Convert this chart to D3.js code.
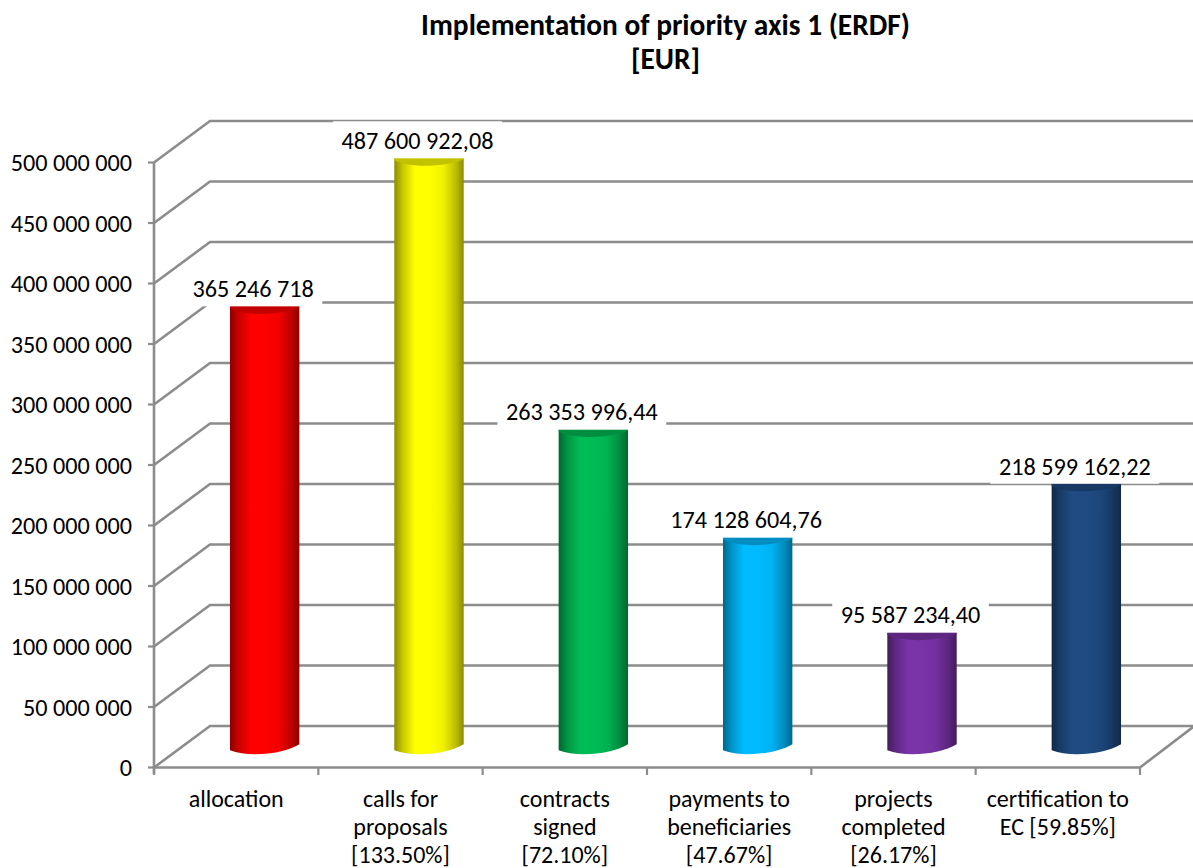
<!DOCTYPE html>
<html><head><meta charset="utf-8">
<script src="https://cdn.jsdelivr.net/npm/d3@7"></script>
<style>html,body{margin:0;padding:0;background:#fff}svg{display:block}text{font-family:Carlito,Lato,"Open Sans",sans-serif;fill:#000}</style>
</head><body><svg id="c" width="1193" height="868"></svg>
<script>
const categories=[["allocation"],["calls for","proposals","[133.50%]"],["contracts","signed","[72.10%]"],["payments to","beneficiaries","[47.67%]"],["projects","completed","[26.17%]"],["certification to","EC [59.85%]"]];
const values=[365246718,487600922.08,263353996.44,174128604.76,95587234.40,218599162.22];
const valueLabels=["365 246 718","487 600 922,08","263 353 996,44","174 128 604,76","95 587 234,40","218 599 162,22"];
const barColors=["#FF0000","#FFFF00","#00BC55","#00BBFF","#7A33A8","#1F4B82"];
const yTicks=d3.range(0,500000001,50000000);
const titleLines=["Implementation of priority axis 1 (ERDF)","[EUR]"];

const svg=d3.select("#c"),grid="#8c8c8c";
const x=d3.scaleBand().domain(d3.range(6)).range([154,1140]).padding(0);
const y=d3.scaleLinear().domain([0,500000000]).range([767.5,162.5]);
const dx=56,dy=41.5;
const fmt=v=>d3.format(",")(v).replace(/,/g," ");
const defs=svg.append("defs");
barColors.forEach((c,i)=>{
  const g=defs.append("linearGradient").attr("id","g"+i);
  const col=d3.color(c);
  [[0,.55],[.12,.78],[.3,1],[.5,1],[.7,.95],[.88,.75],[1,.55]].forEach(([o,k])=>{
    g.append("stop").attr("offset",o).attr("stop-color",d3.rgb(col.r*k,col.g*k,col.b*k));
  });
});
const G=svg.append("g");
yTicks.forEach(t=>{
  const p=y(t);
  G.append("path").attr("d",`M154,${p}L${154+dx},${p-dy}L1193,${p-dy}`).attr("fill","none").attr("stroke",grid).attr("stroke-width",2.6);
  G.append("line").attr("x1",148).attr("x2",154).attr("y1",p).attr("y2",p).attr("stroke",grid).attr("stroke-width",2.2);
  svg.append("text").attr("x",132).attr("y",p+1.5).attr("dy","0.3em").attr("text-anchor","end").attr("font-size",24.2).text(fmt(t));
});
G.append("line").attr("x1",154).attr("x2",154).attr("y1",y(500000000)).attr("y2",774).attr("stroke",grid).attr("stroke-width",2.6);
G.append("path").attr("d",`M154,767.5L1140,767.5L1193,727`).attr("fill","none").attr("stroke",grid).attr("stroke-width",2.6);
d3.range(7).forEach(i=>{
  const px=154+i*x.bandwidth();
  G.append("line").attr("x1",px).attr("x2",px).attr("y1",767).attr("y2",775).attr("stroke",grid).attr("stroke-width",2.2);
});
const hw=34.7, ox=dx/2+0.5, oy=dy/2-1.5;
const base=y(0)-oy;
values.forEach((v,i)=>{
  const cx=x(i)+x.bandwidth()/2+ox, L=cx-hw, R=cx+hw, top=y(v)-oy;
  G.append("path").attr("d",`M${L},${top}L${R},${top}L${R},${base-4}C${R-14},${base+5} ${L+20},${base+10} ${L},${base+2}Z`).attr("fill",`url(#g${i})`);
  const col=d3.color(barColors[i]);
  G.append("path").attr("d",`M${L},${top}L${R},${top}L${R},${top+1}C${R-16},${top+8} ${L+18},${top+11} ${L},${top+2}Z`).attr("fill",d3.rgb(col.r*.76,col.g*.76,col.b*.76));
});
values.forEach((v,i)=>{
  const cx=x(i)+x.bandwidth()/2+ox-11.5, top=y(v)-oy, ty=top-16.5;
  const t=svg.append("text").attr("x",cx).attr("y",ty).attr("dy","0.3em").attr("text-anchor","middle").attr("font-size",24.2).text(valueLabels[i]);
  const w=t.node().getComputedTextLength();
  svg.insert("rect","text").attr("x",cx-w/2-8.5).attr("y",top-37).attr("width",w+17).attr("height",37).attr("fill","#fff");
});
categories.forEach((ls,i)=>ls.forEach((l,j)=>{
  svg.append("text").attr("x",x(i)+x.bandwidth()/2).attr("y",799.5+j*28.2).attr("dy","0.3em").attr("text-anchor","middle").attr("font-size",24).text(l);
}));
titleLines.forEach((l,j)=>{
  svg.append("text").attr("x",665.5).attr("y",26.5+j*34).attr("dy","0.3em").attr("text-anchor","middle").attr("font-size",29.4).attr("font-weight","bold").text(l);
});
</script></body></html>
